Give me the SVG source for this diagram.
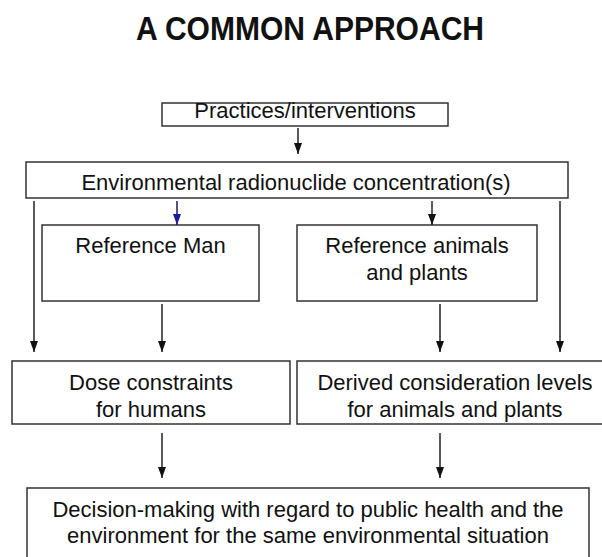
<svg xmlns="http://www.w3.org/2000/svg" width="602" height="557" viewBox="0 0 602 557">
<style>
.box{fill:#fff;stroke:#333;stroke-width:1.5}
.t{font-family:"Liberation Sans",Arial,sans-serif;font-size:22px;fill:#111;text-anchor:middle}
.title{font-family:"Liberation Sans",Arial,sans-serif;font-size:33px;font-weight:bold;fill:#111;text-anchor:middle}
.c{stroke:#222;stroke-width:1.5;fill:none;marker-end:url(#ah)}
.cb{stroke:#1a1a6e;stroke-width:1.5;fill:none;marker-end:url(#ahb)}
</style>
<defs>
<marker id="ah" markerUnits="userSpaceOnUse" markerWidth="12" markerHeight="10" refX="11" refY="4" orient="auto" viewBox="0 0 12 8">
<path d="M0,0 L11,4 L0,8 z" fill="#111"/>
</marker>
<marker id="ahb" markerUnits="userSpaceOnUse" markerWidth="12" markerHeight="10" refX="11" refY="4" orient="auto" viewBox="0 0 12 8">
<path d="M0,0 L11,4 L0,8 z" fill="#1a1aa0"/>
</marker>
</defs>
<rect width="602" height="557" fill="#fff"/>
<text class="title" x="310" y="40" textLength="348" lengthAdjust="spacingAndGlyphs">A COMMON APPROACH</text>
<g id="practices"><rect class="box" x="162" y="103" width="286" height="23"/><text class="t" x="305" y="118">Practices/interventions</text></g>
<g id="environment"><rect class="box" x="26" y="162" width="542" height="36"/><text class="t" x="296" y="190">Environmental radionuclide concentration(s)</text></g>
<g id="refman"><rect class="box" x="42" y="225" width="217" height="76"/><text class="t" x="150.5" y="253">Reference Man</text></g>
<g id="refanimals"><rect class="box" x="297" y="225" width="240" height="76"/><text class="t" x="417" y="253">Reference animals</text><text class="t" x="417" y="280">and plants</text></g>
<g id="dose"><rect class="box" x="12" y="361" width="278" height="63"/><text class="t" x="151" y="390">Dose constraints</text><text class="t" x="151" y="416.5">for humans</text></g>
<g id="derived"><rect class="box" x="297" y="361" width="316" height="63"/><text class="t" x="455" y="390">Derived consideration levels</text><text class="t" x="455" y="416.5">for animals and plants</text></g>
<g id="decision"><rect class="box" x="27" y="488" width="562" height="74"/><text class="t" x="308" y="516.5">Decision-making with regard to public health and the</text><text class="t" x="308" y="543">environment for the same environmental situation</text></g>
<g id="connectors">
<line class="c" x1="298" y1="128" x2="298" y2="154"/>
<line class="c" x1="34" y1="201" x2="34" y2="352"/>
<line class="cb" x1="177" y1="201" x2="177" y2="225"/>
<line class="c" x1="432" y1="201" x2="432" y2="225"/>
<line class="c" x1="560" y1="201" x2="560" y2="352"/>
<line class="c" x1="162" y1="304" x2="162" y2="352"/>
<line class="c" x1="440" y1="304" x2="440" y2="352"/>
<line class="c" x1="162" y1="433" x2="162" y2="478"/>
<line class="c" x1="440" y1="433" x2="440" y2="478"/>
</g>
</svg>
